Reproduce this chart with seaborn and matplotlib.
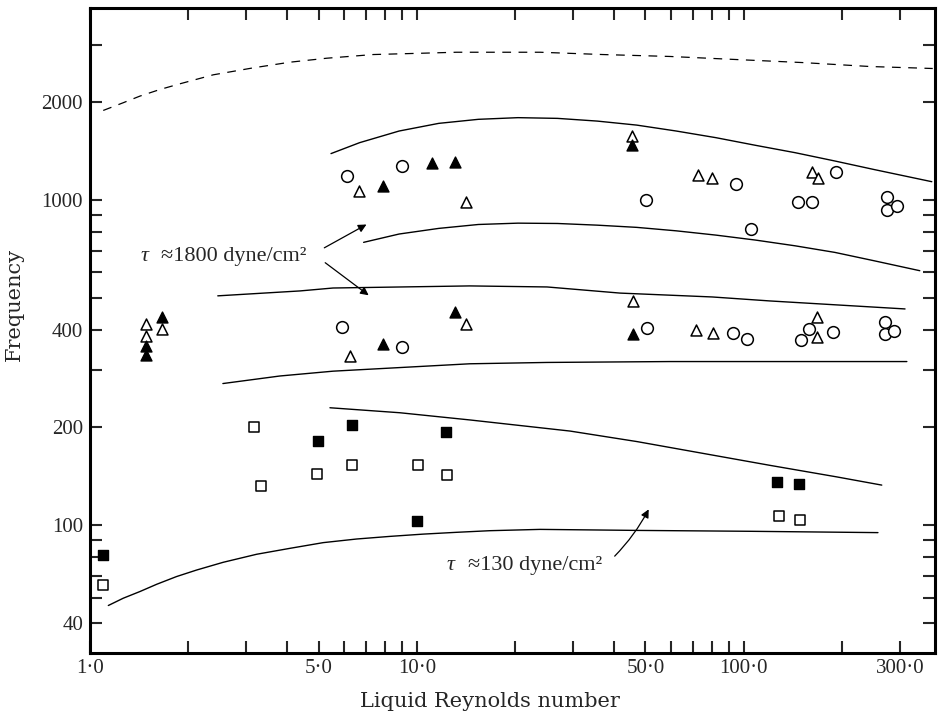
import numpy as np
import pandas as pd
import matplotlib
matplotlib.use("Agg")
import matplotlib.pyplot as plt
import seaborn as sns
from matplotlib.ticker import FixedLocator, FixedFormatter, NullFormatter

# --- datos (Re liquido vs frecuencia) ---
# circulos abiertos
circ_re = [6.1, 9.0, 50.1, 94.6, 105, 146, 161, 191, 274, 274, 294,
           5.9, 9.0, 50.5, 92.5, 102, 150, 158, 187, 270, 270, 288]
circ_f = [1185, 1271, 1000, 1120, 815, 986, 986, 1219, 1021, 932, 958,
          408, 354, 405, 391, 375, 372, 402, 394, 422, 388, 396]

# triangulos abiertos
tri_o_re = [6.65, 14.1, 45.4, 72.3, 79.8, 162, 169,
            1.48, 1.48, 1.66, 6.24, 14.1, 45.7, 71.3, 80.4, 167, 167]
tri_o_f = [1066, 986, 1571, 1193, 1168, 1219, 1168,
           417, 383, 402, 332, 417, 490, 399, 391, 438, 380]

# triangulos llenos
tri_f_re = [7.87, 11.1, 13.1, 45.4, 1.48, 1.48, 1.66, 7.87, 13.1, 45.7]
tri_f_f = [1104, 1298, 1308, 1475, 357, 335, 438, 361, 453, 388]

# cuadrados abiertos
sq_o_re = [1.10, 3.17, 3.33, 4.94, 6.33, 10.07, 12.4, 128, 148]
sq_o_f = [65.4, 200, 132, 144, 153, 153, 143, 107, 104]

# cuadrados llenos
sq_f_re = [1.10, 4.98, 6.33, 10.0, 12.3, 126, 147]
sq_f_f = [80.9, 182, 203, 103.5, 194, 136, 134]

# curvas
dash_re = [1.098, 1.264, 1.422, 1.637, 1.884, 2.383, 3.16, 4.09, 5.30, 7.35,
           10.2, 13.2, 23.8, 37.0, 59.4, 95.2, 151, 243, 378]
dash_f = [1888, 1994, 2090, 2190, 2280, 2430, 2553, 2657, 2733, 2805,
          2830, 2851, 2851, 2805, 2767, 2707, 2650, 2577, 2541]

c1_re = [5.46, 6.68, 8.82, 11.66, 15.41, 20.37, 26.9, 35.6, 47.0, 62.1,
         82.1, 108.5, 143.4, 189.7, 250.6, 375.5]
c1_f = [1391, 1503, 1632, 1723, 1773, 1794, 1785, 1751, 1702, 1632,
        1557, 1475, 1400, 1320, 1242, 1140]

c2_re = [6.87, 8.82, 11.66, 15.41, 20.37, 26.9, 35.6, 47.0, 62.1, 82.1,
         108.5, 143.4, 189.7, 250.6, 345]
c2_f = [742, 787, 819, 842, 850, 848, 838, 825, 805, 781,
        754, 724, 691, 651, 607]

c3_re = [2.46, 4.39, 5.54, 14.5, 25.0, 41.8, 80.0, 120, 311]
c3_f = [508, 526, 537, 545, 541, 518, 504, 490, 463]

c4_re = [2.55, 3.81, 5.54, 14.5, 25.0, 59.4, 315]
c4_f = [273, 288, 298, 314, 317, 319, 319]

c5_re = [5.42, 8.87, 14.5, 29.4, 47.1, 120, 192, 264]
c5_f = [230, 222, 211, 195, 181, 153, 141, 133]

c6_re = [1.138, 1.264, 1.422, 1.60, 1.84, 2.12, 2.556, 3.234, 4.09, 5.17,
         6.54, 8.27, 10.45, 13.2, 16.7, 23.8, 47.1, 104, 257]
c6_f = [56.7, 59.7, 62.6, 65.9, 69.6, 72.9, 77.0, 81.5, 85.0, 88.5,
        90.8, 92.5, 94.0, 95.2, 96.3, 97.2, 96.5, 95.9, 95]

x_ticks = [1, 5, 10, 50, 100, 300]
x_labels = ["1·0", "5·0", "10·0", "50·0", "100·0", "300·0"]
x_minor = [2, 3, 4, 6, 7, 8, 9, 20, 30, 40, 60, 70, 80, 90, 200]
y_ticks = [50, 100, 200, 400, 1000, 2000]
y_labels = ["40", "100", "200", "400", "1000", "2000"]
y_minor = [60, 70, 80, 90, 300, 500, 600, 700, 800, 900, 3000]

# --- estilo ---
sns.set_style("ticks")
plt.rcParams["font.family"] = ["Liberation Serif", "DejaVu Serif"]

fig = plt.figure(figsize=(9.41, 7.14), dpi=100)
ax = fig.add_axes([0.0956, 0.0854, 0.898, 0.9034])

# curvas
for xs, ys in [(c1_re, c1_f), (c2_re, c2_f), (c3_re, c3_f),
               (c4_re, c4_f), (c5_re, c5_f), (c6_re, c6_f)]:
    sns.lineplot(x=xs, y=ys, color="black", linewidth=1.0, sort=False,
                 estimator=None, ax=ax)
sns.lineplot(x=dash_re, y=dash_f, color="black", linewidth=0.9, sort=False,
             estimator=None, linestyle=(0, (7, 6)), ax=ax)

# puntos
ms = 62
sns.scatterplot(x=circ_re, y=circ_f, marker="o", s=ms * 1.15, color="white",
                edgecolor="black", linewidth=1.1, ax=ax, zorder=3)
sns.scatterplot(x=tri_o_re, y=tri_o_f, marker="^", s=ms, color="white",
                edgecolor="black", linewidth=1.1, ax=ax, zorder=3)
sns.scatterplot(x=tri_f_re, y=tri_f_f, marker="^", s=ms, color="black",
                edgecolor="black", linewidth=1.0, ax=ax, zorder=3)
sns.scatterplot(x=sq_o_re, y=sq_o_f, marker="s", s=ms * 0.75, color="white",
                edgecolor="black", linewidth=1.1, ax=ax, zorder=3)
sns.scatterplot(x=sq_f_re, y=sq_f_f, marker="s", s=ms * 0.9, color="black",
                edgecolor="black", linewidth=1.0, ax=ax, zorder=3)

ax.set_xscale("log")
ax.set_yscale("log")
ax.set_xlim(1, 384)
ax.set_ylim(40.5, 3900)

ax.xaxis.set_major_locator(FixedLocator(x_ticks))
ax.xaxis.set_major_formatter(FixedFormatter(x_labels))
ax.xaxis.set_minor_locator(FixedLocator(x_minor))
ax.xaxis.set_minor_formatter(NullFormatter())
ax.yaxis.set_major_locator(FixedLocator(y_ticks))
ax.yaxis.set_major_formatter(FixedFormatter(y_labels))
ax.yaxis.set_minor_locator(FixedLocator(y_minor))
ax.yaxis.set_minor_formatter(NullFormatter())

ax.tick_params(which="both", direction="in", top=True, right=True,
               length=8.5, width=1.5, labelsize=15)
ax.tick_params(axis="x", which="major", pad=4)
ax.tick_params(axis="y", which="major", pad=5)
for sp in ax.spines.values():
    sp.set_linewidth(2.2)
    sp.set_color("black")

ax.set_xlabel("Liquid Reynolds number", fontsize=15, family="DejaVu Serif")
ax.xaxis.set_label_coords(0.473, -0.06)
ax.set_ylabel("Frequency", fontsize=15, family="DejaVu Serif")
ax.yaxis.set_label_coords(-0.078, 0.541)

# anotaciones
ax.text(1.43, 669, "τ", fontsize=16, style="italic", va="center")
ax.text(1.65, 669, "≈1800 dyne/cm²", fontsize=16, va="center")
arrow = dict(arrowstyle="-|>", color="black", lw=0.9, mutation_scale=12)
ax.annotate("", xy=(7.13, 850), xytext=(5.12, 707), arrowprops=arrow)
ax.annotate("", xy=(7.23, 504), xytext=(5.16, 650), arrowprops=arrow)

ax.text(12.3, 75.3, "τ", fontsize=16, style="italic", va="center")
ax.text(14.3, 75.3, "≈130 dyne/cm²", fontsize=16, va="center")
ax.annotate("", xy=(51.6, 114), xytext=(39.7, 79.3),
            arrowprops=dict(arrowstyle="-|>", color="black", lw=0.9,
                            mutation_scale=12,
                            connectionstyle="arc3,rad=0.08"))

fig.savefig("out.png", dpi=100)
